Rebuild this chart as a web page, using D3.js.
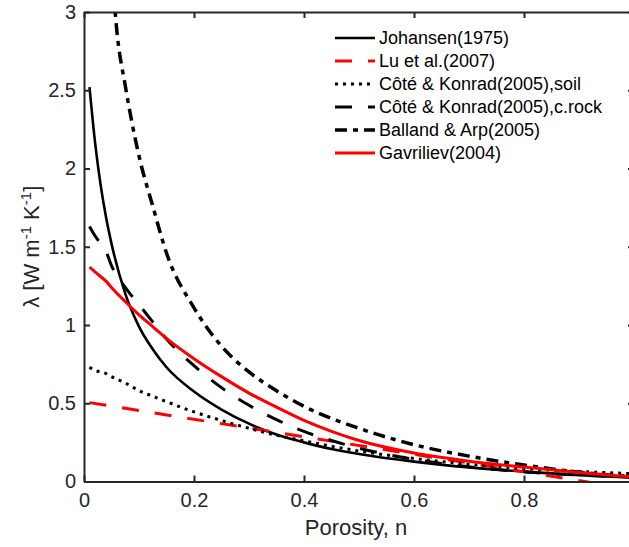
<!DOCTYPE html>
<html>
<head>
<meta charset="utf-8">
<script src="https://cdn.jsdelivr.net/npm/d3@7/dist/d3.min.js"></script>
<style>
  html, body { margin: 0; padding: 0; background: #fff; }
  svg { display: block; font-family: "Liberation Sans", Arial, sans-serif; }
</style>
</head>
<body>
<svg id="chart" width="629" height="547"></svg>
<script>
// Dry thermal conductivity models versus porosity
const porosity = [0.01, 0.02, 0.03, 0.04, 0.05, 0.075, 0.1, 0.125, 0.15, 0.2, 0.25, 0.3, 0.35, 0.4, 0.45, 0.5, 0.6, 0.7, 0.8, 0.9, 1.0];

const johansen  = [2.52, 2.17, 1.90, 1.69, 1.52, 1.20, 0.99, 0.845, 0.73, 0.575, 0.46, 0.37, 0.30, 0.25, 0.208, 0.176, 0.127, 0.09, 0.063, 0.041, 0.024];
const coteSoil  = [0.73, 0.71, 0.70, 0.69, 0.67, 0.63, 0.58, 0.545, 0.51, 0.445, 0.39, 0.34, 0.295, 0.26, 0.225, 0.195, 0.147, 0.11, 0.083, 0.064, 0.05];
const coteRock  = [1.63, 1.57, 1.52, 1.47, 1.38, 1.24, 1.13, 1.02, 0.91, 0.74, 0.60, 0.487, 0.395, 0.32, 0.262, 0.213, 0.142, 0.094, 0.062, 0.041, 0.027];
const gavriliev = [1.37, 1.34, 1.31, 1.28, 1.24, 1.15, 1.065, 0.99, 0.915, 0.785, 0.67, 0.565, 0.475, 0.39, 0.32, 0.262, 0.182, 0.13, 0.092, 0.058, 0.028];

const ballandN  = [0.05, 0.06, 0.075, 0.1, 0.125, 0.15, 0.2, 0.25, 0.3, 0.35, 0.4, 0.5, 0.6, 0.7, 0.8, 0.9, 1.0];
const balland   = [3.3, 2.87, 2.53, 2.08, 1.76, 1.46, 1.11, 0.865, 0.70, 0.58, 0.48, 0.34, 0.235, 0.162, 0.105, 0.06, 0.03];

const luN = [0.01, 1.0];
const lu  = [0.504, -0.05];

const xTicks = [0, 0.2, 0.4, 0.6, 0.8];
const yTicks = [0, 0.5, 1, 1.5, 2, 2.5, 3];

const seriesNames = ["Johansen(1975)", "Lu et al.(2007)", "Côté & Konrad(2005),soil",
                     "Côté & Konrad(2005),c.rock", "Balland & Arp(2005)", "Gavriliev(2004)"];

const series = [
  { name: seriesNames[0], xs: porosity, ys: johansen,  color: "#000", width: 2.6, dash: null },
  { name: seriesNames[1], xs: luN,      ys: lu,        color: "#f00", width: 3,   dash: "17,16" },
  { name: seriesNames[2], xs: porosity, ys: coteSoil,  color: "#000", width: 3,   dash: "3,5" },
  { name: seriesNames[3], xs: porosity, ys: coteRock,  color: "#000", width: 3,   dash: "17,16" },
  { name: seriesNames[4], xs: ballandN, ys: balland,   color: "#000", width: 3.5, dash: "12,6,5,6" },
  { name: seriesNames[5], xs: porosity, ys: gavriliev, color: "#f00", width: 3,   dash: null }
];

const svg = d3.select("#chart");
const plotLeft = 84, plotRight = 634, plotTop = 12, plotBottom = 481.5;

const x = d3.scaleLinear().domain([0, 1]).range([plotLeft, plotRight]);
const y = d3.scaleLinear().domain([0, 3]).range([plotBottom, plotTop]);

svg.append("defs").append("clipPath").attr("id", "plotClip")
  .append("rect").attr("x", plotLeft).attr("y", plotTop)
  .attr("width", plotRight - plotLeft).attr("height", plotBottom - plotTop);

// Curves
const line = d3.line().x(d => x(d[0])).y(d => y(d[1])).curve(d3.curveMonotoneX);
const curves = svg.append("g").attr("clip-path", "url(#plotClip)");
series.forEach(s => {
  const pts = s.xs.map((v, i) => [v, s.ys[i]]);
  curves.append("path")
    .attr("d", line(pts))
    .attr("fill", "none")
    .attr("stroke", s.color)
    .attr("stroke-width", s.width)
    .attr("stroke-dasharray", s.dash)
    .attr("stroke-linecap", "butt")
    .attr("stroke-linejoin", "round");
});

// Axes (box with inward ticks)
const axisColor = "#262626";
const fmt = d => d3.format("")(d);

const gB = svg.append("g").attr("transform", `translate(0,${plotBottom})`)
  .call(d3.axisBottom(x).tickValues(xTicks).tickSize(-6).tickSizeOuter(0).tickPadding(11).tickFormat(fmt));
const gT = svg.append("g").attr("transform", `translate(0,${plotTop})`)
  .call(d3.axisTop(x).tickValues(xTicks.concat([1])).tickSize(-6).tickSizeOuter(0).tickFormat(""));
const gL = svg.append("g").attr("transform", `translate(${plotLeft},0)`)
  .call(d3.axisLeft(y).tickValues(yTicks).tickSize(-6).tickSizeOuter(0).tickPadding(8).tickFormat(fmt));
const gR = svg.append("g").attr("transform", `translate(${plotRight},0)`)
  .call(d3.axisRight(y).tickValues(yTicks).tickSize(-6).tickSizeOuter(0).tickFormat(""));

[gB, gT, gL, gR].forEach(g => {
  g.select(".domain").attr("stroke", axisColor).attr("stroke-width", 2);
  g.selectAll(".tick line").attr("stroke", axisColor).attr("stroke-width", 2);
  g.selectAll(".tick text").attr("fill", axisColor).style("font-size", "20px")
    .style("font-family", "'Liberation Sans', Arial, sans-serif");
});

// Axis titles
svg.append("text")
  .attr("x", (plotLeft + plotRight) / 2 - 3).attr("y", 535)
  .attr("text-anchor", "middle").attr("fill", axisColor)
  .style("font-size", "22px")
  .text("Porosity, n");

const yTitle = svg.append("text")
  .attr("transform", `translate(39,${(plotTop + plotBottom) / 2}) rotate(-90)`)
  .attr("text-anchor", "middle").attr("fill", axisColor)
  .style("font-size", "22px");
yTitle.append("tspan").text("λ [W m");
yTitle.append("tspan").attr("dy", -8).style("font-size", "15px").text("-1");
yTitle.append("tspan").attr("dy", 8).text(" K");
yTitle.append("tspan").attr("dy", -8).style("font-size", "15px").text("-1");
yTitle.append("tspan").attr("dy", 8).text("]");

// Legend
const legend = svg.append("g").attr("transform", "translate(335,38)");
series.forEach((s, i) => {
  const row = legend.append("g").attr("transform", `translate(0,${i * 23})`);
  row.append("line")
    .attr("x1", 0).attr("x2", 40).attr("y1", 0).attr("y2", 0)
    .attr("stroke", s.color).attr("stroke-width", s.width)
    .attr("stroke-dasharray", s.dash);
  row.append("text")
    .attr("x", 44).attr("y", 0).attr("dy", "0.35em")
    .attr("fill", "#000").style("font-size", "18px")
    .text(s.name);
});
</script>
</body>
</html>
